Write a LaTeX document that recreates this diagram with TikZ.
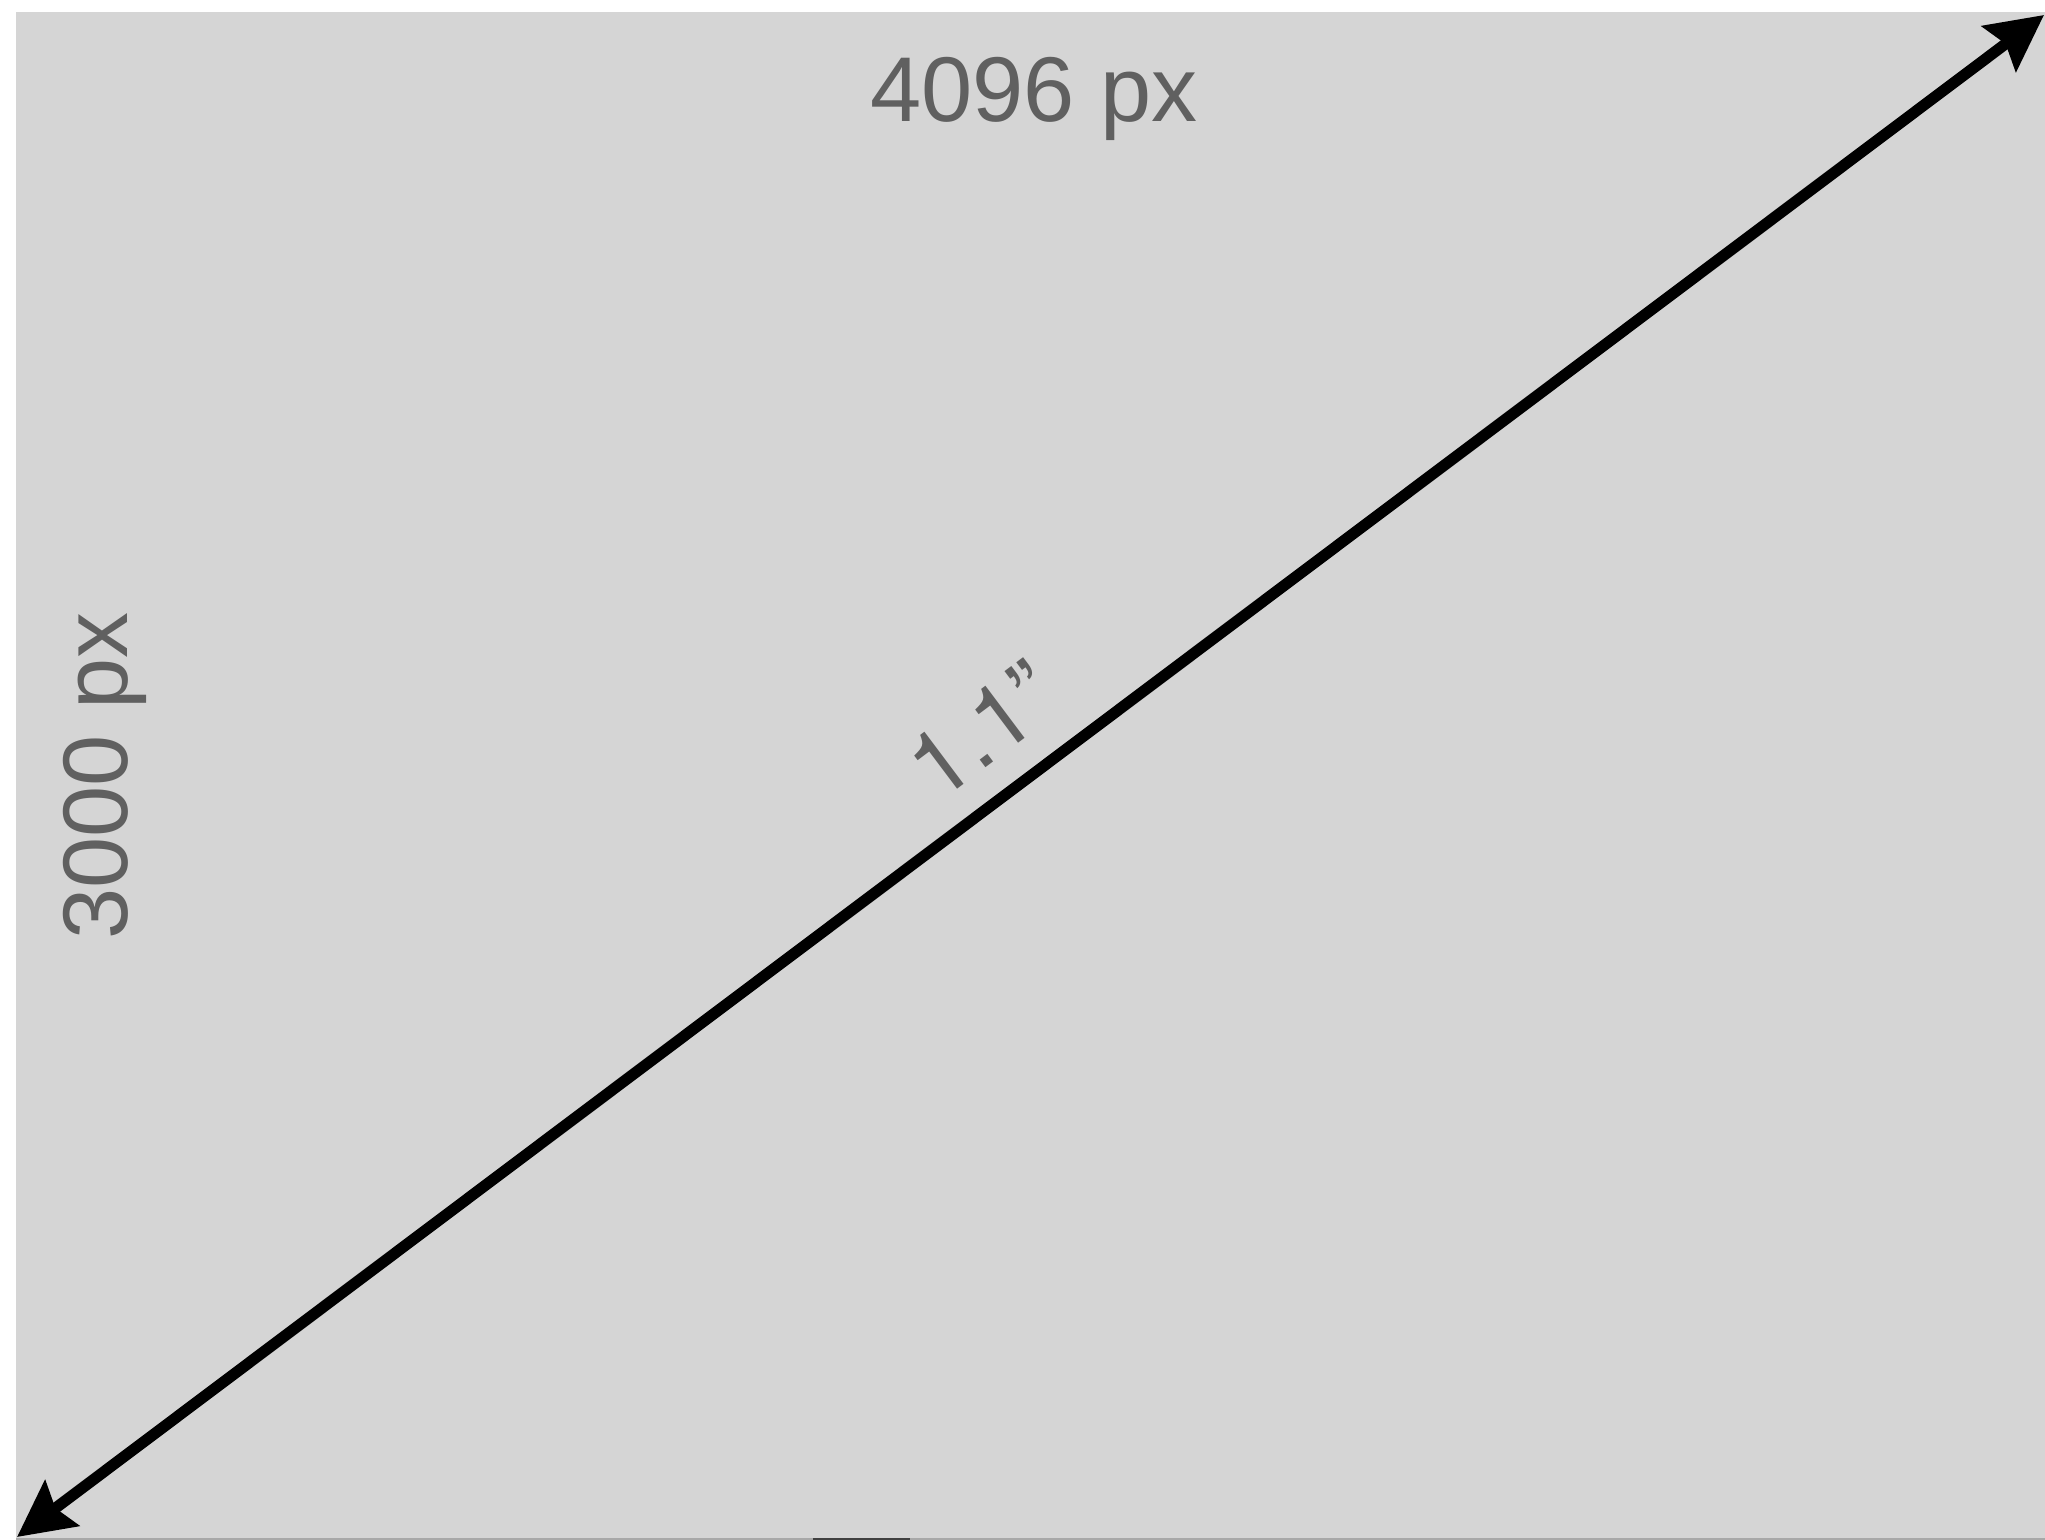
\documentclass[tikz,border=0pt]{standalone}
\usepackage{fontspec}
\setmainfont{Liberation Sans}
\newfontfamily\heros{TeX Gyre Heros}
\usetikzlibrary{arrows.meta}
\definecolor{bggray}{HTML}{D5D5D5}
\definecolor{txtgray}{HTML}{606060}
\definecolor{edgegray}{HTML}{A8A8A8}
\tikzset{
  dimlabel/.style={text=txtgray, inner sep=0pt, font=\fontsize{46}{54}\selectfont},
  diag/.style={line width=5.6pt, {Stealth[length=28pt,width=28pt,inset=4pt]}-{Stealth[length=28pt,width=28pt,inset=4pt]}}
}
\begin{document}
\begin{tikzpicture}[x=0.5pt,y=-0.5pt]
\useasboundingbox (0,0) rectangle (2045,1540);
\fill[white] (0,0) rectangle (2045,1540);
\fill[bggray] (16,12) rectangle (2045,1538);
\fill[edgegray] (16,1538) rectangle (2045,1540);
\fill[black!75] (813,1537.5) rectangle (910,1540);
\coordinate (a) at (17,1537);
\coordinate (b) at (2044,15);
\draw[diag] (a) -- (b);
\node[dimlabel, anchor=base] (w) at (1034,122) {4096 px};
\node[dimlabel, anchor=base, rotate=90] (h) at (127,776) {3000 px};
\node[dimlabel, font=\fontsize{46}{54}\heros, rotate=36.87] (d) at (982,730) {1.1”};
\end{tikzpicture}
\end{document}
